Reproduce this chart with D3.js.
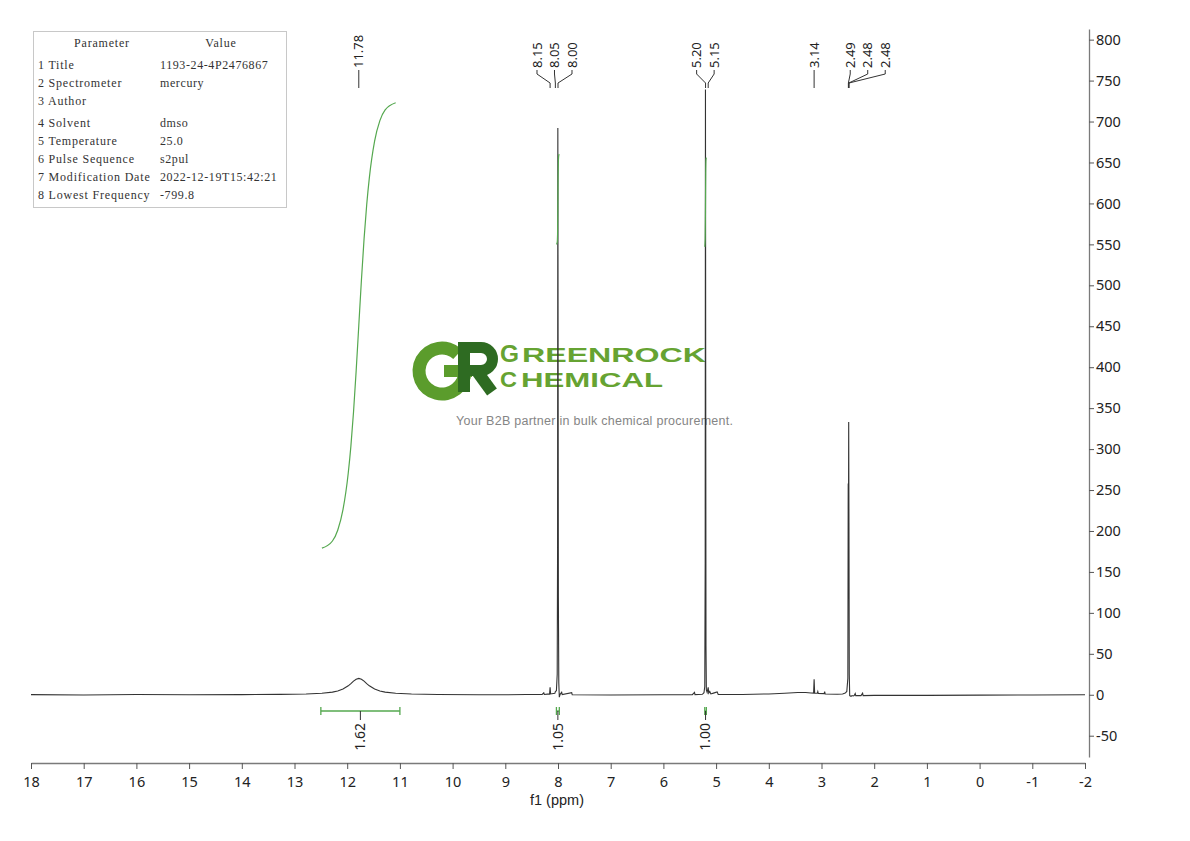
<!DOCTYPE html>
<html>
<head>
<meta charset="utf-8">
<script src="https://cdn.jsdelivr.net/npm/d3@7"></script>
<style>
  body { margin: 0; background: #fff; }
  .sans { font-family: "Noto Sans", sans-serif; }
</style>
</head>
<body>
<svg id="chart" width="1190" height="841"></svg>
<script>
/* 1H NMR spectrum (dmso) */

// spectrum: [ppm, intensity]
const spectrum = [
  [18.0, 0.2], [17.0, -0.2], [16.0, 0.3], [15.0, 0.0], [14.0, 0.2], [13.28, 0.5],
  [12.78, 1.0], [12.48, 1.8], [12.28, 3.2], [12.18, 4.6], [12.08, 7.0], [11.98, 10.9],
  [11.93, 13.6], [11.88, 16.6], [11.83, 19.0], [11.78, 20.0], [11.73, 19.0], [11.68, 16.6],
  [11.63, 13.6], [11.58, 10.9], [11.48, 7.0], [11.38, 4.6], [11.28, 3.2], [11.08, 1.8],
  [10.78, 0.9], [10.28, 0.4], [9.5, 0.1], [9.0, 0.0], [8.6, 0.3], [8.3, 0.5],
  [8.27, 2.5], [8.26, 0.4], [8.2, 0.8], [8.16, 0.8], [8.15, 9.0], [8.14, 1.0],
  [8.06, 1.8], [8.05, 4.0], [8.03, 5.0], [8.015, 25], [8.008, 180], [8.003, 692],
  [7.998, 420], [7.993, 120], [7.985, 15], [7.975, -3], [7.96, 0.5], [7.93, 3.0],
  [7.92, 0.2], [7.74, 2.5], [7.73, 0.0], [7.0, -0.3], [6.0, 0.0], [5.45, 0.2],
  [5.41, 3.0], [5.40, 0.2], [5.26, 0.6], [5.23, 2.5], [5.215, 10], [5.207, 160],
  [5.202, 739], [5.197, 380], [5.192, 60], [5.185, 6], [5.17, 3], [5.15, 9],
  [5.14, 2], [5.12, 4], [5.10, 1], [5.05, 2], [4.98, 3.5], [4.96, 0.3],
  [4.5, 0.4], [4.0, 1.0], [3.7, 1.8], [3.45, 2.7], [3.3, 2.8], [3.2, 2.2],
  [3.15, 2.0], [3.14, 19], [3.13, 2.0], [3.08, 1.8], [3.07, 4.0], [3.06, 1.5],
  [2.95, 1.4], [2.94, 3.8], [2.93, 1.0], [2.7, 0.6], [2.6, 1.0], [2.55, 2.0],
  [2.52, 4.0], [2.50, 20], [2.493, 258], [2.489, 150], [2.484, 333], [2.479, 210],
  [2.473, 25], [2.465, -1], [2.44, -2], [2.42, -1], [2.40, -1.5], [2.38, -1],
  [2.36, 1.5], [2.35, -1], [2.25, -1], [2.22, 2], [2.21, -1], [2.0, -0.8],
  [1.0, -0.8], [0.0, -0.5], [-1.0, -0.2], [-2.0, 0.0]
];

// peak picking
const peakLabels = ["11.78", "8.15", "8.05", "8.00", "5.20", "5.15", "3.14", "2.49", "2.48", "2.48"];
const peakPpm    = [11.78, 8.15, 8.05, 8.00, 5.20, 5.15, 3.14, 2.49, 2.482, 2.478];
const peakGroup  = [0, 1, 1, 1, 2, 2, 3, 4, 4, 4];

// integrals
const integralFrom  = [12.5, 8.03, 5.215];
const integralTo    = [11.0, 7.975, 5.185];
const integralValue = ["1.62", "1.05", "1.00"];

// axis ticks
const xTicks = [18, 17, 16, 15, 14, 13, 12, 11, 10, 9, 8, 7, 6, 5, 4, 3, 2, 1, 0, -1, -2];
const yTicks = [-50, 0, 50, 100, 150, 200, 250, 300, 350, 400, 450, 500, 550, 600, 650, 700, 750, 800];

// parameter table
const paramNames  = ["1 Title", "2 Spectrometer", "3 Author", "4 Solvent", "5 Temperature",
                     "6 Pulse Sequence", "7 Modification Date", "8 Lowest Frequency"];
const paramValues = ["1193-24-4P2476867", "mercury", "", "dmso", "25.0",
                     "s2pul", "2022-12-19T15:42:21", "-799.8"];

// ---------------------------------------------------------------
const svg = d3.select("#chart");
const x = d3.scaleLinear().domain([18, -2]).range([31, 1085]);
const y = d3.scaleLinear().domain([-76, 813]).range([757, 29]);
const green = "#55a84f";

// watermark logo (behind everything)
const logo = svg.append("g");
const gArc = d3.arc().innerRadius(16.5).outerRadius(29.5)
  .startAngle(Math.PI / 2).endAngle(2 * Math.PI + 0.75);
logo.append("path").attr("d", gArc()).attr("transform", "translate(442,371)").attr("fill", "#5b9c2c");
logo.append("rect").attr("x", 444).attr("y", 365).attr("width", 28).attr("height", 12).attr("fill", "#5b9c2c");
// the dark "R" of the mark
const rMark = logo.append("g").attr("fill", "none").attr("stroke", "#2e6b22");
rMark.append("rect").attr("x", 458).attr("y", 342).attr("width", 12).attr("height", 50)
  .attr("fill", "#2e6b22").attr("stroke", "none");
rMark.append("path").attr("d", "M464,347.5 H481 A11.5,11.5 0 0 1 481,370.5 H464").attr("stroke-width", 11);
rMark.append("path").attr("d", "M476,370 L492,392").attr("stroke-width", 12);

function logoWord(px, py, size, len, str) {
  logo.append("text").attr("x", px).attr("y", py)
    .attr("textLength", len).attr("lengthAdjust", "spacingAndGlyphs")
    .style("font-family", "Liberation Sans").style("font-weight", "bold")
    .style("font-size", size + "px").attr("fill", "#66a332").text(str);
}
logoWord(500, 362, 23, 19, "G");
logoWord(522, 362, 21, 184, "REENROCK");
logoWord(500, 387, 22, 17, "C");
logoWord(521, 387, 21, 142, "HEMICAL");

logo.append("text").attr("x", 456).attr("y", 425)
  .attr("textLength", 277).attr("lengthAdjust", "spacing")
  .style("font-family", "Liberation Sans").style("font-size", "12.5px")
  .attr("fill", "#858585").text("Your B2B partner in bulk chemical procurement.");

// parameter table
const tbl = svg.append("g");
tbl.append("rect").attr("x", 33.5).attr("y", 31.5).attr("width", 253).attr("height", 176)
  .attr("fill", "#fff").attr("stroke", "#c8c8c8");
function cell(px, py, str, anchor, spacing) {
  tbl.append("text").attr("x", px).attr("y", py).attr("text-anchor", anchor || "start")
    .style("font-family", "Liberation Serif").style("font-size", "12px")
    .style("letter-spacing", (spacing || 0.4) + "px").attr("fill", "#333").text(str);
}
cell(102, 47, "Parameter", "middle", 0.8);
cell(221, 47, "Value", "middle", 0.8);
paramNames.forEach((name, i) => {
  const ty = 69 + i * 18 + (i >= 3 ? 4 : 0);
  cell(38, ty, name, "start", 0.8);
  cell(160, ty, paramValues[i], "start", 0.6);
});

// axes
const xMinor = xTicks.slice(1).map((d, i) => (d + xTicks[i]) / 2);
const xAxisG = svg.append("g").attr("transform", "translate(0,763)");
xAxisG.call(d3.axisBottom(x).tickValues(xMinor).tickSize(4).tickSizeOuter(0).tickFormat(""));
xAxisG.call(d3.axisBottom(x).tickValues(xTicks).tickSize(6).tickSizeOuter(0)
  .tickPadding(8).tickFormat(d => String(d)));
xAxisG.selectAll(".domain").attr("stroke", "#7a7a7a").attr("stroke-width", 1.3);
xAxisG.selectAll(".tick line").attr("stroke", "#555");
xAxisG.selectAll(".tick text").attr("class", "sans").style("font-size", "14.5px").attr("fill", "#222");

const yMinor = [yTicks[0] - 25].concat(yTicks.slice(1).map((d, i) => (d + yTicks[i]) / 2));
const yAxisG = svg.append("g").attr("transform", "translate(1089,0)");
yAxisG.call(d3.axisRight(y).tickValues(yMinor).tickSize(4).tickSizeOuter(0).tickFormat(""));
yAxisG.call(d3.axisRight(y).tickValues(yTicks).tickSize(5).tickSizeOuter(0)
  .tickPadding(2).tickFormat(d => String(d)));
yAxisG.selectAll(".domain").attr("stroke", "#7a7a7a").attr("stroke-width", 1.3);
yAxisG.selectAll(".tick line").attr("stroke", "#555");
yAxisG.selectAll(".tick text").attr("class", "sans").style("font-size", "14.5px").attr("fill", "#222");

svg.append("text").attr("x", 557).attr("y", 805).attr("text-anchor", "middle")
  .style("font-family", "Liberation Sans")
  .style("font-size", "14.5px").attr("fill", "#222").text("f1 (ppm)");

// spectrum trace
const line = d3.line().x(d => x(d[0])).y(d => y(d[1]));
svg.append("path").datum(spectrum).attr("d", line)
  .attr("fill", "none").attr("stroke", "#333").attr("stroke-width", 1.1);

// integral curves (baseline corrected, each scaled into its own band) and brackets
const curveBand = [[179, 723], [550, 660], [547, 656]];
integralFrom.forEach((from, k) => {
  const to = integralTo[k];
  const pts = spectrum.filter(d => d[0] <= from && d[0] >= to);
  const first = pts[0], last = pts[pts.length - 1];
  const base = d3.scaleLinear().domain([first[0], last[0]]).range([first[1], last[1]]);
  let acc = 0;
  const cum = pts.map((d, i) => {
    if (i > 0) {
      const p = pts[i - 1];
      acc += (p[0] - d[0]) * ((p[1] - base(p[0])) + (d[1] - base(d[0]))) / 2;
    }
    return [d[0], acc];
  });
  const band = d3.scaleLinear().domain([0, acc]).range(curveBand[k]);
  const icurve = d3.line().x(d => x(d[0])).y(d => y(band(d[1]))).curve(d3.curveMonotoneX);
  svg.append("path").datum(cum).attr("d", icurve)
    .attr("fill", "none").attr("stroke", green).attr("stroke-width", 1.2);

  const x0 = x(from), x1 = x(to), xm = x((from + to) / 2);
  const br = svg.append("g").attr("stroke", green).attr("stroke-width", 1.3);
  br.append("line").attr("x1", x0).attr("x2", x1).attr("y1", 711).attr("y2", 711);
  br.append("line").attr("x1", x0).attr("x2", x0).attr("y1", 707).attr("y2", 715);
  br.append("line").attr("x1", x1).attr("x2", x1).attr("y1", 707).attr("y2", 715);
  svg.append("line").attr("x1", xm).attr("x2", xm).attr("y1", 711).attr("y2", 720)
    .attr("stroke", "#333");
  svg.append("text").attr("class", "sans").attr("transform", `translate(${xm},723) rotate(-90)`)
    .attr("text-anchor", "end").attr("dy", "0.35em")
    .style("font-size", "14px").attr("fill", "#222").text(integralValue[k]);
});

// peak labels with leader lines
const labelShift = [0, 0, -1.5, 0, 19];
const groups = d3.groups(peakLabels.map((t, i) => ({ t, ppm: peakPpm[i], g: peakGroup[i] })), d => d.g);
groups.forEach(([g, items]) => {
  const centre = d3.mean(items, d => x(d.ppm)) + labelShift[g];
  items.forEach((d, i) => {
    const lx = centre + (i - (items.length - 1) / 2) * 17.5;
    const px = x(d.ppm);
    svg.append("text").attr("class", "sans").attr("transform", `translate(${lx},68) rotate(-90)`)
      .attr("dy", "0.35em").style("font-size", "13px").attr("fill", "#222").text(d.t);
    svg.append("path")
      .attr("d", `M${lx},70 L${lx},74 L${px},83 L${px},88`)
      .attr("fill", "none").attr("stroke", "#333").attr("stroke-width", 1);
  });
});
</script>
</body>
</html>
